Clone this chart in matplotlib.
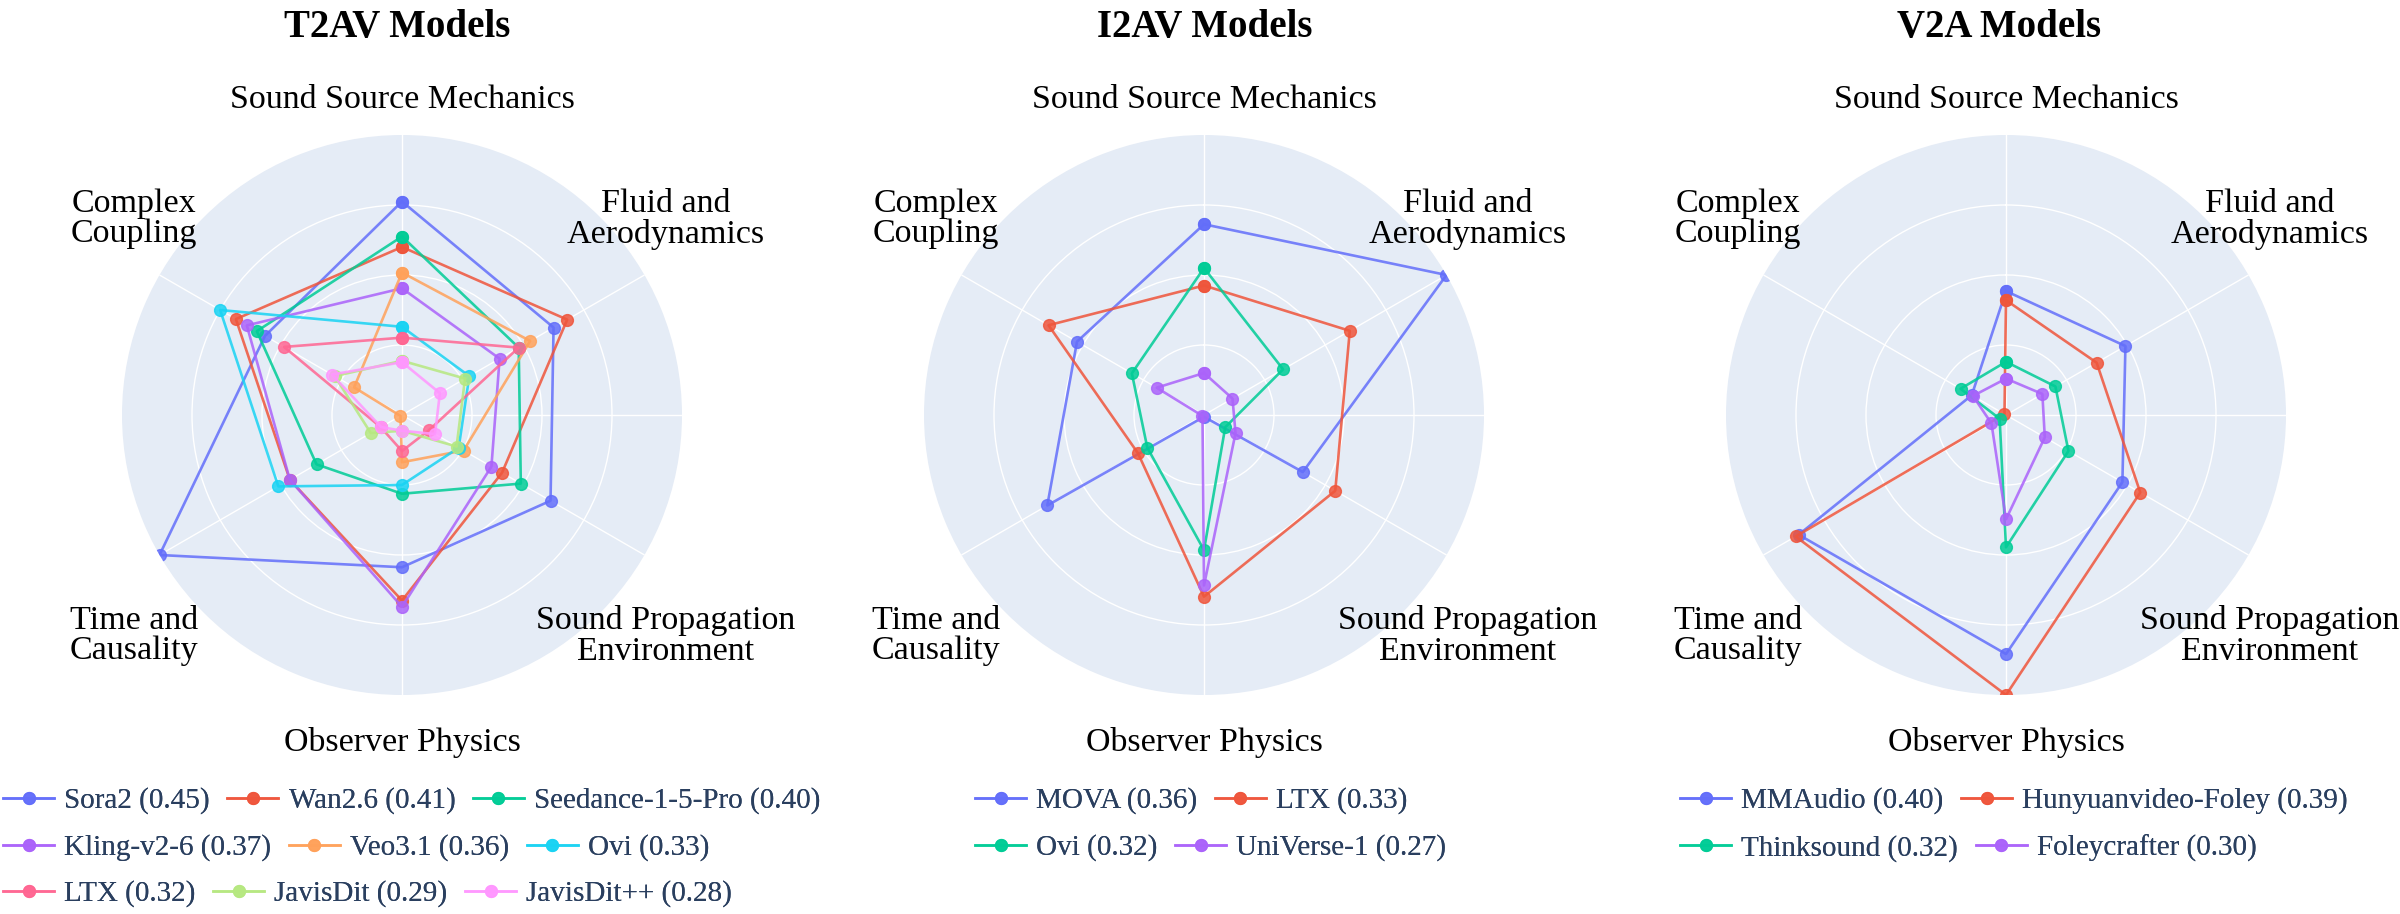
import numpy as np
import matplotlib
matplotlib.use("Agg")
import matplotlib.pyplot as plt

plt.rcParams['font.family'] = ['Liberation Serif', 'DejaVu Serif']

# ---------------- data ----------------
categories = ["Sound Source Mechanics", "Fluid and\nAerodynamics",
              "Sound Propagation\nEnvironment", "Observer Physics",
              "Time and\nCausality", "Complex\nCoupling"]

# T2AV
t2av_models = ["Sora2", "Wan2.6", "Seedance-1-5-Pro", "Kling-v2-6", "Veo3.1",
               "Ovi", "LTX", "JavisDit", "JavisDit++"]
t2av_scores = [0.45, 0.41, 0.40, 0.37, 0.36, 0.33, 0.32, 0.29, 0.28]
sora2      = [0.61, 0.50, 0.49, 0.435, 0.80, 0.452]
wan26      = [0.48, 0.545, 0.33, 0.53, 0.37, 0.548]
seedance   = [0.51, 0.385, 0.392, 0.225, 0.282, 0.479]
kling      = [0.362, 0.322, 0.295, 0.548, 0.370, 0.512]
veo31      = [0.407, 0.423, 0.203, 0.135, 0.005, 0.158]
ovi_t2av   = [0.252, 0.222, 0.187, 0.200, 0.408, 0.600]
ltx_t2av   = [0.221, 0.385, 0.088, 0.103, 0.070, 0.389]
javisdit   = [0.155, 0.208, 0.180, 0.045, 0.103, 0.222]
javisditpp = [0.151, 0.125, 0.109, 0.045, 0.069, 0.231]

# I2AV
i2av_models = ["MOVA", "LTX", "Ovi", "UniVerse-1"]
i2av_scores = [0.36, 0.33, 0.32, 0.27]
mova       = [0.545, 0.80, 0.326, 0.005, 0.517, 0.419]
ltx_i2av   = [0.370, 0.481, 0.433, 0.519, 0.218, 0.513]
ovi_i2av   = [0.420, 0.261, 0.070, 0.386, 0.187, 0.238]
universe1  = [0.120, 0.094, 0.104, 0.487, 0.005, 0.156]

# V2A
v2a_models = ["MMAudio", "Hunyuanvideo-Foley", "Thinksound", "Foleycrafter"]
v2a_scores = [0.40, 0.39, 0.32, 0.30]
mmaudio      = [0.354, 0.394, 0.384, 0.683, 0.684, 0.113]
hunyuan      = [0.328, 0.299, 0.443, 0.80, 0.694, 0.005]
thinksound   = [0.152, 0.163, 0.206, 0.378, 0.021, 0.150]
foleycrafter = [0.104, 0.120, 0.128, 0.298, 0.048, 0.109]

palette = ["#636EFA", "#EF553B", "#00CC96", "#AB63FA", "#FFA15A",
           "#19D3F3", "#FF6692", "#B6E880", "#FF97FF"]

panels = [
    dict(title="T2AV Models", models=t2av_models, scores=t2av_scores,
         values=[sora2, wan26, seedance, kling, veo31, ovi_t2av, ltx_t2av, javisdit, javisditpp],
         cx=402, title_x=397,
         legend_rows=[[0, 1, 2], [3, 4, 5], [6, 7, 8]], legend_x=3),
    dict(title="I2AV Models", models=i2av_models, scores=i2av_scores,
         values=[mova, ltx_i2av, ovi_i2av, universe1],
         cx=1204, title_x=1205,
         legend_rows=[[0, 1], [2, 3]], legend_x=975),
    dict(title="V2A Models", models=v2a_models, scores=v2a_scores,
         values=[mmaudio, hunyuan, thinksound, foleycrafter],
         cx=2006, title_x=1999,
         legend_rows=[[0, 1], [2, 3]], legend_x=1680),
]

# ---------------- layout ----------------
W, H = 2400, 914
fig = plt.figure(figsize=(W / 100, H / 100), dpi=100)
fig.patch.set_facecolor("white")

def fx(x):
    return x / W

def fy(y):
    return 1 - y / H

CY = 415
R = 280
label_offsets = [(0, -315), (264, -196), (264, 221), (0, 328), (-268, 221), (-268, -196)]
legend_row_y = [801, 848, 894]

angles = np.deg2rad(np.arange(len(categories)) * 60.0)
angles_closed = np.concatenate([angles, angles[:1]])

for p in panels:
    cx = p["cx"]
    ax = fig.add_axes([fx(cx - R), fy(CY + R), 2 * R / W, 2 * R / H], projection="polar")
    ax.set_theta_offset(np.pi / 2)
    ax.set_theta_direction(-1)
    ax.set_facecolor("#E5ECF6")
    rmax = max(max(v) for v in p["values"])
    ax.set_ylim(0, rmax)
    ax.set_thetagrids([0, 60, 90, 120, 180, 240, 300], labels=[""] * 7)
    ax.set_rgrids([0.2, 0.4, 0.6], labels=["", "", ""])
    ax.grid(True, color="white", linewidth=1.0)
    ax.spines["polar"].set_visible(False)
    ax.tick_params(length=0)

    lines = []
    for i, vals in enumerate(p["values"]):
        v = np.concatenate([vals, vals[:1]])
        ln, = ax.plot(angles_closed, v, color=palette[i], linewidth=1.9,
                      marker="o", markersize=8.5, alpha=0.85,
                      label=f"{p['models'][i]} ({p['scores'][i]:.2f})")
        lines.append(ln)

    # category labels
    for lab, (dx, dy) in zip(categories, label_offsets):
        fig.text(fx(cx + dx), fy(CY + dy), lab, ha="center", va="center",
                 multialignment="center", fontsize=24.5, color="black",
                 linespacing=1.0)

    # title
    fig.text(fx(p["title_x"]), fy(28), p["title"], ha="center", va="center",
             fontsize=28, fontweight="bold", color="black")

    # legend rows (flowing like the original)
    for r, idxs in enumerate(p["legend_rows"]):
        leg = fig.legend([lines[i] for i in idxs], [lines[i].get_label() for i in idxs],
                         loc="center left", bbox_to_anchor=(fx(p["legend_x"]), fy(legend_row_y[r])),
                         ncol=len(idxs), frameon=False, fontsize=21,
                         handlelength=1.75, handletextpad=0.35, columnspacing=0.6,
                         borderpad=0, borderaxespad=0, labelcolor="#2a3f5f")
        fig.add_artist(leg)

fig.savefig("out.png", dpi=100, facecolor="white")
